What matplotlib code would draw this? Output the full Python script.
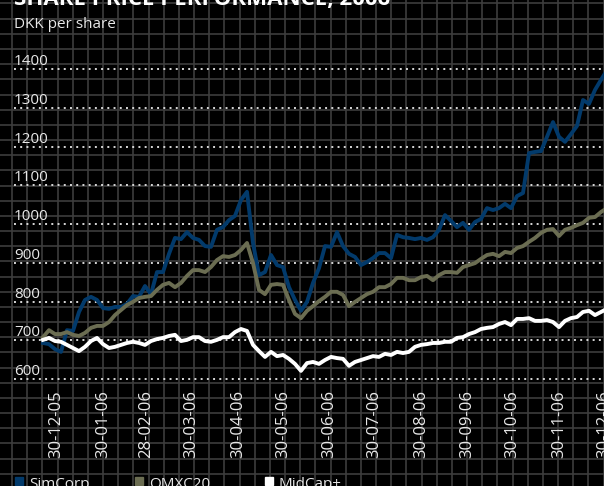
import matplotlib
matplotlib.use("Agg")
import matplotlib.pyplot as plt
import matplotlib.dates as mdates
import matplotlib.transforms as mtransforms
from matplotlib.patches import Rectangle
import numpy as np
import pandas as pd

# share prices, DKK, sampled every 4 days from 21-12-2005
simcorp = [693, 690, 677, 670, 726, 724, 773, 804, 812, 804,
           783, 781, 786, 786, 794, 814, 812, 840, 819, 876,
           876, 923, 964, 961, 979, 964, 959, 943, 941, 985,
           992, 1010, 1021, 1062, 1083, 951, 868, 876, 920, 894,
           889, 837, 804, 776, 799, 848, 886, 943, 941, 979,
           943, 923, 915, 894, 902, 912, 925, 925, 912, 972,
           966, 964, 961, 964, 959, 966, 985, 1023, 1008, 992,
           1003, 985, 1005, 1013, 1041, 1036, 1041, 1052, 1041, 1072,
           1080, 1183, 1186, 1188, 1225, 1263, 1225, 1212, 1232, 1253,
           1320, 1310, 1346, 1372, 1397]
omxc20 = [708, 726, 716, 716, 721, 714, 711, 719, 732, 737,
          737, 747, 765, 778, 791, 799, 809, 812, 814, 830,
          843, 848, 837, 848, 866, 881, 881, 876, 889, 907,
          917, 915, 920, 933, 951, 899, 830, 819, 843, 845,
          843, 804, 768, 757, 776, 788, 801, 812, 825, 825,
          817, 788, 799, 809, 819, 825, 837, 837, 845, 861,
          861, 855, 855, 863, 866, 855, 868, 876, 876, 874,
          889, 894, 899, 910, 920, 923, 917, 928, 925, 938,
          943, 954, 964, 977, 985, 987, 969, 985, 990, 997,
          1003, 1016, 1018, 1031, 1041]
midcap = [701, 706, 698, 696, 688, 680, 672, 683, 698, 706,
          690, 680, 683, 688, 693, 696, 693, 688, 698, 703,
          706, 711, 714, 698, 701, 708, 708, 698, 696, 701,
          708, 708, 721, 729, 724, 688, 672, 657, 670, 659,
          662, 652, 639, 621, 641, 644, 639, 649, 657, 654,
          652, 634, 644, 649, 654, 659, 657, 665, 662, 670,
          667, 670, 683, 688, 690, 693, 693, 696, 696, 706,
          708, 716, 721, 729, 732, 734, 742, 747, 739, 755,
          755, 757, 750, 750, 752, 747, 734, 750, 757, 760,
          773, 776, 765, 773, 781]

series_names = ["SimCorp", "OMXC20", "MidCap+"]
series_colors = ["#023a6b", "#6b6d52", "#ffffff"]

tick_dates = ["2005-12-30", "2006-01-30", "2006-02-28", "2006-03-30",
              "2006-04-30", "2006-05-30", "2006-06-30", "2006-07-30",
              "2006-08-30", "2006-09-30", "2006-10-30", "2006-11-30",
              "2006-12-30"]
tick_labels = ["30-12-05", "30-01-06", "28-02-06", "30-03-06", "30-04-06",
               "30-05-06", "30-06-06", "30-07-06", "30-08-06", "30-09-06",
               "30-10-06", "30-11-06", "30-12-06"]
y_ticks = [600, 700, 800, 900, 1000, 1100, 1200, 1300, 1400]

W, H = 604, 486
FONT = ["Open Sans", "DejaVu Sans"]
fig = plt.figure(figsize=(W / 100, H / 100), dpi=100, facecolor="black")

# pixel-space layer for the chequered backdrop and legend
bg = fig.add_axes([0, 0, 1, 1])
bg.set_xlim(0, W)
bg.set_ylim(H, 0)
bg.axis("off")
cell = 15.17
for gx in np.arange(12, W, cell):
    bg.axvline(gx, color="#3d3d3d", lw=1.2, zorder=0)
for gy in np.arange(3.5, H, cell):
    bg.axhline(gy, color="#3d3d3d", lw=1.2, zorder=0)

# data layer
ax = fig.add_axes([0, 0, 1, 1], facecolor="none")
ax.axis("off")
start = pd.Timestamp("2005-12-21")
dates = pd.date_range(start, periods=len(simcorp), freq="4D")
px_day = 1.5
x0 = mdates.date2num(start) - 43 / px_day
ax.set_xlim(x0, x0 + W / px_day)
px_val = 0.3875
ax.set_ylim(1400 - (H - 69) / px_val, 1400 + 69 / px_val)

for v in y_ticks:
    ax.axhline(v, xmin=14 / W, xmax=1, color="#d8d8d8", lw=1.4,
               linestyle=(0, (1, 2.2)), zorder=2)

ylab_tr = mtransforms.offset_copy(
    mtransforms.blended_transform_factory(ax.transAxes, ax.transData),
    fig=fig, y=4, units="dots")
for v in y_ticks:
    ax.text(14 / W, v, str(v), transform=ylab_tr, ha="left", va="baseline",
            color="#e8e8e8", fontsize=11, family=FONT)

for vals, c in zip([simcorp, omxc20, midcap], series_colors):
    ax.plot(dates, vals, color=c, lw=2.8, solid_joinstyle="round", zorder=3)

xlab_tr = mtransforms.blended_transform_factory(ax.transData, ax.transAxes)
for d, lab in zip(tick_dates, tick_labels):
    ax.text(mdates.date2num(pd.Timestamp(d)), 1 - 390 / H, lab,
            transform=xlab_tr, rotation=90, ha="center", va="top",
            color="#e8e8e8", fontsize=12, family=FONT)

fig.text(14 / W, 1 - 5 / H, "SHARE PRICE PERFORMANCE, 2006", color="white",
         fontsize=16, fontweight="bold", family=FONT, va="baseline")
fig.text(14 / W, 1 - 28 / H, "DKK per share", color="#e8e8e8",
         fontsize=11, family=FONT, va="baseline")

# legend along the bottom edge
for name, c, lx in zip(series_names, series_colors, [15, 135, 265]):
    bg.add_patch(Rectangle((lx, 477), 7.5, 8, color=c, zorder=4))
    bg.text(lx + 14, 488, name, color="#e8e8e8", fontsize=11, family=FONT,
            va="baseline", ha="left")

fig.savefig("out.png", dpi=100, facecolor="black")
